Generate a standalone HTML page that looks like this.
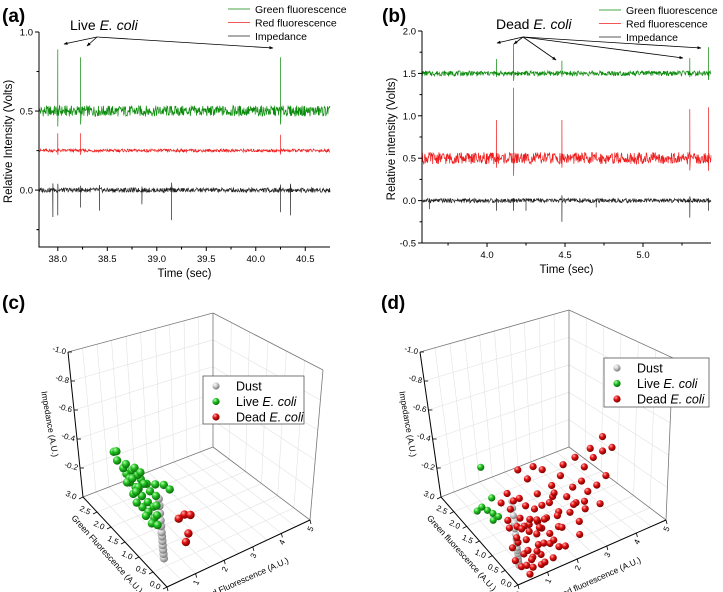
<!DOCTYPE html>
<html><head><meta charset="utf-8">
<style>
html,body{margin:0;padding:0;background:#fff;}
svg{display:block;font-family:"Liberation Sans",Arial,sans-serif;}
</style></head>
<body>
<svg id="fig" width="723" height="592" viewBox="0 0 723 592" xmlns="http://www.w3.org/2000/svg">
<defs>
<radialGradient id="gG" cx="35%" cy="30%" r="70%"><stop offset="0" stop-color="#b8ffb0"/><stop offset="0.45" stop-color="#22c022"/><stop offset="1" stop-color="#0a6a0a"/></radialGradient>
<radialGradient id="gR" cx="35%" cy="30%" r="70%"><stop offset="0" stop-color="#ffb0b0"/><stop offset="0.45" stop-color="#e01010"/><stop offset="1" stop-color="#7a0000"/></radialGradient>
<radialGradient id="gD" cx="35%" cy="30%" r="70%"><stop offset="0" stop-color="#ffffff"/><stop offset="0.5" stop-color="#c4c4c4"/><stop offset="1" stop-color="#7a7a7a"/></radialGradient>
<marker id="arr" viewBox="0 0 10 10" refX="9" refY="5" markerWidth="5" markerHeight="5" orient="auto"><path d="M0,1 L10,5 L0,9 z" fill="#000"/></marker>
</defs>
<text x="2" y="22" font-size="19" font-weight="bold">(a)</text>
<text x="382" y="22" font-size="19" font-weight="bold">(b)</text>
<text x="2" y="309" font-size="19" font-weight="bold">(c)</text>
<text x="381" y="309" font-size="19" font-weight="bold">(d)</text>
<g id="layer"></g>
</svg>
<script>
// ---------- Panel (a) data ----------
const aXTicks = [38.0, 38.5, 39.0, 39.5, 40.0, 40.5];
const aYTicks = [0.0, 0.5, 1.0];
const aBaselines = [0.5, 0.25, 0.0];           // green, red, impedance
const aNoise = [0.035, 0.01, 0.015];
const aGreenSpikeT = [38.0, 38.23, 40.25];
const aGreenSpikeV = [0.89, 0.84, 0.84];
const aRedSpikeT = [38.0, 38.23, 40.25];
const aRedSpikeV = [0.36, 0.36, 0.35];
const aImpSpikeT = [37.8, 37.95, 38.0, 38.23, 38.42, 38.85, 39.15, 40.25, 40.35];
const aImpSpikeV = [-0.15, -0.17, -0.16, -0.11, -0.13, -0.09, -0.19, -0.14, -0.16];
// ---------- Panel (b) data ----------
const bXTicks = [4.0, 4.5, 5.0];
const bYTicks = [-0.5, 0.0, 0.5, 1.0, 1.5, 2.0];
const bBaselines = [1.5, 0.5, 0.0];
const bNoise = [0.03, 0.07, 0.025];
const bGreenSpikeT = [4.06, 4.17, 4.48, 5.30, 5.42];
const bGreenSpikeV = [1.67, 1.85, 1.65, 1.68, 1.81];
const bRedSpikeT = [4.06, 4.17, 4.48, 5.30, 5.42];
const bRedSpikeV = [0.95, 1.33, 0.95, 1.08, 1.10];
const bImpSpikeT = [3.63, 4.06, 4.17, 4.25, 4.48, 4.70, 5.30, 5.42];
const bImpSpikeV = [-0.10, -0.12, -0.12, -0.12, -0.25, -0.08, -0.20, -0.12];
// ---------- Panel (c) data: [red, green, impedance] ----------
const cDust = [[0.5,0.6,-0.03],[0.5,0.6,-0.06],[0.5,0.6,-0.09],[0.5,0.6,-0.12],[0.5,0.6,-0.15],[0.5,0.6,-0.18],[0.5,0.6,-0.21],[0.5,0.6,-0.25],[0.5,0.6,-0.29],[0.5,0.6,-0.34],[0.5,0.6,-0.39],[0.5,0.6,-0.44]];
const cLive = [[1.0,2.0,-0.20],[0.9,2.1,-0.22],[1.1,1.9,-0.15],[1.2,2.0,-0.24],[0.9,2.2,-0.26],[0.9,2.3,-0.28],[1.0,2.3,-0.30],[0.8,2.4,-0.32],[1.1,2.2,-0.27],[1.2,2.1,-0.25],[1.3,1.9,-0.22],[1.5,1.8,-0.22],[1.7,1.7,-0.22],[1.8,1.6,-0.20],[1.3,2.0,-0.20],[1.0,1.8,-0.10],[1.1,1.7,-0.08],[1.2,1.6,-0.05],[1.1,1.6,-0.02],[0.9,1.9,-0.12],[0.9,2.0,-0.16],[1.0,2.2,-0.22],[1.1,2.0,-0.18],[1.2,1.8,-0.12],[1.3,1.7,-0.10],[1.2,1.5,-0.02],[1.3,1.6,-0.06],[0.9,2.2,-0.20],[1.0,2.1,-0.24],[1.0,1.9,-0.22],[1.2,2.2,-0.28],[1.3,2.1,-0.26],[1.1,2.1,-0.14],[1.0,1.7,-0.06],[1.4,1.9,-0.16],[1.5,1.8,-0.14],[1.4,1.7,-0.10],[0.8,2.5,-0.36],[0.85,2.45,-0.37]];
const cDead = [[1.1,0.6,-0.25],[1.3,0.6,-0.26],[1.5,0.6,-0.24],[1.3,0.5,-0.15],[1.2,0.5,-0.10]];
// ---------- Panel (d) data ----------
const dDust = [[0.4,0.4,-0.02],[0.4,0.4,-0.04],[0.4,0.4,-0.06],[0.4,0.4,-0.08],[0.4,0.4,-0.10],[0.4,0.4,-0.12],[0.4,0.4,-0.14],[0.4,0.4,-0.17],[0.4,0.4,-0.20],[0.4,0.4,-0.23],[0.4,0.4,-0.27],[0.4,0.4,-0.31],[0.4,0.4,-0.36],[0.4,0.4,-0.41],[0.4,0.4,-0.46]];
const dLive = [[0.8,2.0,-0.05],[0.9,1.9,-0.04],[0.7,2.1,-0.06],[1.0,1.8,-0.03],[0.8,1.8,-0.02],[0.6,2.2,-0.02],[1.0,2.0,-0.12],[0.9,2.2,-0.30]];
const dDead = [[0.4,0.3,-0.03],[0.5,0.2,-0.05],[0.6,0.4,-0.08],[0.7,0.2,-0.02],[0.8,0.3,-0.06],[0.9,0.1,-0.04],[1.0,0.2,-0.08],[1.1,0.4,-0.10],[0.6,0.6,-0.12],[0.8,0.5,-0.14],[1.0,0.6,-0.16],[1.2,0.3,-0.12],[1.3,0.1,-0.05],[1.4,0.3,-0.10],[0.5,0.5,-0.18],[0.7,0.7,-0.20],[0.9,0.8,-0.22],[1.1,0.7,-0.18],[1.3,0.6,-0.20],[1.5,0.4,-0.14],[1.6,0.2,-0.08],[0.5,0.8,-0.24],[0.7,0.9,-0.28],[0.9,1.0,-0.30],[1.2,0.9,-0.26],[1.4,0.8,-0.24],[1.6,0.6,-0.20],[1.8,0.4,-0.16],[0.6,0.1,-0.10],[0.8,0.1,-0.14],[1.0,0.3,-0.20],[1.2,0.5,-0.24],[0.4,0.6,-0.10],[0.5,1.0,-0.32],[0.8,1.1,-0.34],[1.1,1.0,-0.30],[1.3,0.9,-0.16],[1.5,0.7,-0.12],[1.7,0.5,-0.06],[1.9,0.3,-0.04],[2.0,0.5,-0.12],[2.1,0.7,-0.18],[1.9,0.8,-0.24],[1.7,1.0,-0.28],[2.2,0.4,-0.22],[2.3,0.6,-0.28],[2.1,0.9,-0.32],[2.4,0.3,-0.16],[2.5,0.5,-0.24],[2.6,0.7,-0.30],[2.4,0.9,-0.36],[2.7,0.4,-0.20],[2.8,0.6,-0.34],[2.6,1.0,-0.40],[2.9,0.5,-0.28],[3.0,0.7,-0.40],[2.9,0.9,-0.44],[3.1,0.4,-0.32],[3.2,0.6,-0.46],[3.3,0.8,-0.48],[3.4,0.5,-0.50],[3.5,0.6,-0.57],[3.3,0.3,-0.38],[3.6,0.4,-0.52],[3.0,0.2,-0.24],[2.3,0.2,-0.10],[1.5,1.1,-0.38],[1.8,1.2,-0.42],[2.0,1.1,-0.40],[1.2,0.2,-0.30],[1.4,0.5,-0.32],[0.7,0.4,-0.26],[1.0,0.9,-0.12],[1.3,1.2,-0.44],[0.9,0.6,-0.04],[1.1,0.2,-0.02],[1.6,0.9,-0.08],[2.2,1.0,-0.22],[2.7,0.8,-0.16],[0.6,0.9,-0.16],[0.3,0.4,-0.06],[0.5,0.1,-0.01],[1.7,0.3,-0.26],[2.5,0.2,-0.30],[1.9,0.6,-0.34]];

const svgNS = "http://www.w3.org/2000/svg";
const layer = document.getElementById('layer');
function mk(tag, attrs, parent, text) {
  const e = document.createElementNS(svgNS, tag);
  for (const k in attrs) e.setAttribute(k, attrs[k]);
  if (text !== undefined) e.textContent = text;
  (parent || layer).appendChild(e);
  return e;
}
// deterministic texture for trace noise (visual texture only)
function tex(i, s) { let h = Math.sin(i * 12.9898 + s * 78.233) * 43758.5453; return (h - Math.floor(h)) * 2 - 1; }

function tracePanel(cfg) {
  const g = mk('g', {});
  
  
  const X = v => cfg.x0 + (v - cfg.xmin) / (cfg.xmax - cfg.xmin) * (cfg.x1 - cfg.x0);
  const Y = v => cfg.y0 - (v - cfg.ymin) / (cfg.ymax - cfg.ymin) * (cfg.y0 - cfg.y1);
  const colors = ['#0a8a0a', '#ee1c1c', '#222'];
  const names = ['green-fluorescence-trace', 'red-fluorescence-trace', 'impedance-trace'];
  const N = 700;
  cfg.series.forEach((s, k) => {
    let pts = [];
    for (let i = 0; i <= N; i++) {
      const t = cfg.xmin + (cfg.xmax - cfg.xmin) * i / N;
      let v = cfg.base[k] + cfg.noise[k] * tex(i, k + cfg.seed);
      pts.push(X(t).toFixed(1) + ',' + Y(v).toFixed(1));
      for (let j = 0; j < s.t.length; j++) {
        if (Math.abs(s.t[j] - t) < (cfg.xmax - cfg.xmin) / N / 2) {
          pts.push(X(s.t[j]).toFixed(1) + ',' + Y(s.v[j]).toFixed(1));
          pts.push(X(s.t[j]).toFixed(1) + ',' + Y(cfg.base[k] - (s.v[j] - cfg.base[k]) * 0.25).toFixed(1));
        }
      }
    }
    const pl = mk('polyline', {points: pts.join(' '), fill: 'none', stroke: colors[k], 'stroke-width': 0.7}, g);
    
    
  });
  const ax = mk('path', {d: `M${cfg.x0},${Y(cfg.ymaxAxis)} V${cfg.y0} H${cfg.x1}`, fill: 'none', stroke: '#000', 'stroke-width': 1}, g);
  
  
  cfg.yticks.forEach(v => {
    mk('line', {x1: cfg.x0 - 4, x2: cfg.x0, y1: Y(v), y2: Y(v), stroke: '#000'}, g);
    const t = mk('text', {x: cfg.x0 - 6, y: Y(v) + 3.5, 'text-anchor': 'end', 'font-size': 9.5}, g, v.toFixed(1));
    
    
    const m = v - cfg.ystep / 2;
    if (m > cfg.ymin) mk('line', {x1: cfg.x0 - 2.5, x2: cfg.x0, y1: Y(m), y2: Y(m), stroke: '#000'}, g);
  });
  if (cfg.ymin < cfg.yticks[0] - cfg.ystep / 2) mk('line', {x1: cfg.x0 - 2.5, x2: cfg.x0, y1: Y(cfg.yticks[0] - cfg.ystep / 2), y2: Y(cfg.yticks[0] - cfg.ystep / 2), stroke: '#000'}, g);
  cfg.xticks.forEach(v => {
    mk('line', {x1: X(v), x2: X(v), y1: cfg.y0, y2: cfg.y0 + 4, stroke: '#000'}, g);
    const t = mk('text', {x: X(v), y: cfg.y0 + 15, 'text-anchor': 'middle', 'font-size': 9.5}, g, v.toFixed(1));
    
    
    [v - cfg.xstep / 2, v + cfg.xstep / 2].forEach(m => {
      if (m > cfg.xmin && m < cfg.xmax) mk('line', {x1: X(m), x2: X(m), y1: cfg.y0, y2: cfg.y0 + 2.5, stroke: '#000'}, g);
    });
  });
  const xt = mk('text', {x: (cfg.x0 + cfg.x1) / 2, y: cfg.y0 + 30, 'text-anchor': 'middle', 'font-size': 11.5}, g, 'Time (sec)');
  
  
  const yt = mk('text', {x: 0, y: 0, 'text-anchor': 'middle', 'font-size': 11.5, transform: `translate(${cfg.x0 - 27},${(cfg.y0 + cfg.y1) / 2 + 2}) rotate(-90)`}, g, cfg.ytitle);
  
  
  const lg = mk('g', {}, g);
  
  
  ['Green fluorescence', 'Red fluorescence', 'Impedance'].forEach((s, k) => {
    const yy = cfg.legY + k * 13.5;
    mk('line', {x1: cfg.legX, x2: cfg.legX + 22, y1: yy, y2: yy, stroke: colors[k], 'stroke-width': 0.8}, lg);
    const t = mk('text', {x: cfg.legX + 27, y: yy + 4, 'font-size': 10.5}, lg, s);
    
    
  });
  const an = mk('text', {x: cfg.annX, y: cfg.annY, 'font-size': 14}, g);
  
  
  mk('tspan', {}, an, cfg.annWord + ' ');
  mk('tspan', {'font-style': 'italic'}, an, 'E. coli');
  cfg.arrows.forEach(a => {
    const l = mk('line', {x1: cfg.arrFrom[0], y1: cfg.arrFrom[1], x2: a[0], y2: a[1], stroke: '#000', 'stroke-width': 0.8, 'marker-end': 'url(#arr)'}, g);
    
    
  });
}

tracePanel({name: 'panel-a-live-trace', seed: 1, x0: 39, x1: 330, y0: 247, y1: 32, xmin: 37.81, xmax: 40.75, ymin: -0.36, ymax: 1.0, ymaxAxis: 1.0,
  xticks: aXTicks, yticks: aYTicks, xstep: 0.5, ystep: 0.5, base: aBaselines, noise: aNoise,
  series: [{t: aGreenSpikeT, v: aGreenSpikeV}, {t: aRedSpikeT, v: aRedSpikeV}, {t: aImpSpikeT, v: aImpSpikeV}],
  ytitle: 'Relative Intensity (Volts)', legX: 228, legY: 9, annX: 70, annY: 30, annWord: 'Live',
  arrFrom: [97, 37], arrows: [[64, 44], [87, 46], [273, 48]]});
tracePanel({name: 'panel-b-dead-trace', seed: 7, x0: 422, x1: 711, y0: 243, y1: 31, xmin: 3.583, xmax: 5.436, ymin: -0.5, ymax: 2.0, ymaxAxis: 2.0,
  xticks: bXTicks, yticks: bYTicks, xstep: 0.5, ystep: 0.5, base: bBaselines, noise: bNoise,
  series: [{t: bGreenSpikeT, v: bGreenSpikeV}, {t: bRedSpikeT, v: bRedSpikeV}, {t: bImpSpikeT, v: bImpSpikeV}],
  ytitle: 'Relative intensity (Volts)', legX: 599, legY: 10, annX: 496, annY: 29, annWord: 'Dead',
  arrFrom: [523, 37], arrows: [[497, 43], [514, 44], [556, 60], [683, 58], [701, 48]]});

function panel3D(cfg) {
  const C = cfg.C;
  const g = mk('g', {});
  
  
  function lerp(p, q, t) { return [p[0] + (q[0] - p[0]) * t, p[1] + (q[1] - p[1]) * t]; }
  function P(r, gr, imp) {
    const a = r / 5, b = gr / 3, c = -imp;
    const B = lerp(lerp(C.p000, C.p100, a), lerp(C.p010, C.p110, a), b);
    const T = lerp(lerp(C.p001, C.p101, a), lerp(C.p011, C.p111, a), b);
    return lerp(B, T, c);
  }
  function L(p, q, st, w) { return mk('line', {x1: p[0], y1: p[1], x2: q[0], y2: q[1], stroke: st, 'stroke-width': w}, g); }
  const grid = '#e2e2e2';
  for (let r = 0.5; r < 5; r += 0.5) { L(P(r, 0, 0), P(r, 3, 0), grid, 0.6); L(P(r, 3, 0), P(r, 3, -1), grid, 0.6); }
  for (let gg = 0.5; gg < 3; gg += 0.5) { L(P(0, gg, 0), P(5, gg, 0), grid, 0.6); L(P(5, gg, 0), P(5, gg, -1), grid, 0.6); }
  for (let z = 0.2; z < 1; z += 0.2) { L(P(0, 3, -z), P(5, 3, -z), grid, 0.6); L(P(5, 3, -z), P(5, 0, -z), grid, 0.6); }
  const box = '#777';
  [[C.p010, C.p110], [C.p110, C.p100], [C.p011, C.p111], [C.p111, C.p101], [C.p110, C.p111], [C.p100, C.p101]].forEach(e => L(e[0], e[1], box, 0.8));
  [[C.p000, C.p100], [C.p000, C.p010], [C.p010, C.p011]].forEach(e => L(e[0], e[1], '#000', 1));
  [-0.2, -0.4, -0.6, -0.8, -1.0].forEach(v => {
    const p = P(0, 3, v);
    L(p, [p[0] + 4, p[1]], '#000', 0.8);
    const t = mk('text', {x: p[0] - 2, y: p[1] + 3, 'text-anchor': 'end', 'font-size': 8, transform: `rotate(15 ${p[0]} ${p[1]})`}, g, v.toFixed(1));
    
    
  });
  [0, 0.5, 1.0, 1.5, 2.0, 2.5, 3.0].forEach(v => {
    const p = P(0, v, 0);
    L(p, [p[0] - 4, p[1] + 2], '#000', 0.8);
    const t = mk('text', {x: p[0] - 6, y: p[1] + 6, 'text-anchor': 'end', 'font-size': 8, transform: `rotate(25 ${p[0]} ${p[1]})`}, g, v.toFixed(1));
    
    
  });
  [0, 1, 2, 3, 4, 5].forEach(v => {
    const p = P(v, 0, 0);
    L(p, [p[0] + 1, p[1] + 4], '#000', 0.8);
    const t = mk('text', {x: p[0] + 3, y: p[1] + 10, 'text-anchor': 'middle', 'font-size': 8, transform: `rotate(-65 ${p[0] + 3} ${p[1] + 10})`}, g, String(v));
    
    
  });
  const it = mk('text', {x: 0, y: 0, 'text-anchor': 'middle', 'font-size': 8.5, transform: `translate(${C.p010[0] - 36},${(C.p010[1] + C.p011[1]) / 2}) rotate(80)`}, g, 'Impedance (A.U.)');
  
  
  const gm = lerp(C.p000, C.p010, 0.5);
  const gt = mk('text', {x: 0, y: 0, 'text-anchor': 'middle', 'font-size': 8.5, transform: `translate(${gm[0] - 20},${gm[1] + 14}) rotate(48)`}, g, cfg.gTitle);
  
  
  const rm = lerp(C.p000, C.p100, 0.5);
  const rt = mk('text', {x: 0, y: 0, 'text-anchor': 'middle', 'font-size': 8.5, transform: `translate(${rm[0] + 8},${rm[1] + 28}) rotate(-24)`}, g, cfg.rTitle);
  
  
  function spheres(arr, fill, nm) {
    arr.forEach(d => {
      const p = P(d[0], d[1], d[2]);
      const c = mk('circle', {cx: p[0].toFixed(1), cy: p[1].toFixed(1), r: cfg.rad, fill: fill}, g);
      
      
    });
  }
  spheres(cfg.dust, 'url(#gD)', 'dust-point');
  spheres(cfg.live, 'url(#gG)', 'live-ecoli-point');
  spheres(cfg.dead, 'url(#gR)', 'dead-ecoli-point');
  const lg = mk('g', {}, g);
  
  
  const b = cfg.leg;
  mk('rect', {x: b[0], y: b[1], width: b[2], height: b[3], fill: '#fff', stroke: '#555', 'stroke-width': 0.8}, lg);
  [['url(#gD)', 'Dust', ''], ['url(#gG)', 'Live ', 'E. coli'], ['url(#gR)', 'Dead ', 'E. coli']].forEach((e, k) => {
    const yy = b[1] + 10 + k * 15.5;
    mk('circle', {cx: b[0] + 13, cy: yy, r: 3.6, fill: e[0]}, lg);
    const t = mk('text', {x: b[0] + 33, y: yy + 4.5, 'font-size': 12.5}, lg);
    
    
    mk('tspan', {}, t, e[1]);
    if (e[2]) mk('tspan', {'font-style': 'italic'}, t, e[2]);
  });
}
panel3D({name: 'panel-c-3d-scatter', rad: 4.2, gTitle: 'Green Fluorescence (A.U.)', rTitle: 'Red Fluorescence (A.U.)',
  C: {p000: [167, 587], p100: [310, 520], p010: [83, 497], p110: [213, 447], p001: [152, 442], p101: [323, 370], p011: [68, 352], p111: [213, 313]},
  dust: cDust, live: cLive, dead: cDead, leg: [203, 376, 101, 48]});
panel3D({name: 'panel-d-3d-scatter', rad: 3.6, gTitle: 'Green fluorescence (A.U.)', rTitle: 'Red fluorescence (A.U.)',
  C: {p000: [518, 585], p100: [666, 520], p010: [441, 497], p110: [569, 447], p001: [500, 440], p101: [673, 358], p011: [420, 352], p111: [569, 310]},
  dust: dDust, live: dLive, dead: dDead, leg: [604, 358, 105, 49]});
</script>
</body></html>
